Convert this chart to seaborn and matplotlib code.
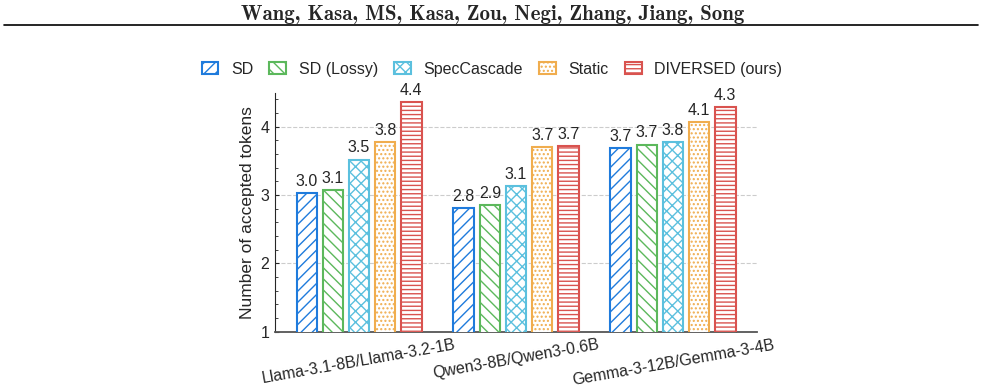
# Accepted tokens per drafting method, grouped by target/draft model pair
import pandas as pd
import matplotlib
matplotlib.use("Agg")
import matplotlib.pyplot as plt
from matplotlib.patches import Patch
from matplotlib.ticker import MultipleLocator
import seaborn as sns

# Data
pairs = ['Llama-3.1-8B/Llama-3.2-1B', 'Qwen3-8B/Qwen3-0.6B', 'Gemma-3-12B/Gemma-3-4B']
methods = ['SD', 'SD (Lossy)', 'SpecCascade', 'Static', 'DIVERSED (ours)']
sd = [3.035, 2.81, 3.69]
sd_lossy = [3.075, 2.85, 3.74]
spec_cascade = [3.52, 3.13, 3.77]
static = [3.77, 3.70, 4.07]
diversed = [4.36, 3.72, 4.29]

colors = ['#1f7bdc', '#5cb85c', '#5bc0de', '#f0ad4e', '#d9534f']
hatches = ['///', '\\\\\\', 'xxx', '....', '----']

rows = []
for m, vals in zip(methods, [sd, sd_lossy, spec_cascade, static, diversed]):
    for p, v in zip(pairs, vals):
        rows.append({'pair': p, 'method': m, 'tokens': v})
df = pd.DataFrame(rows)

sns.set_style('ticks')
plt.rcParams['font.family'] = ['Liberation Sans', 'DejaVu Sans']
plt.rcParams['hatch.linewidth'] = 1.0

fig = plt.figure(figsize=(9.84, 3.89), dpi=100)
ax = fig.add_axes([0.2795, 0.1473, 0.4898, 0.6147])

sns.barplot(data=df, x='pair', y='tokens', hue='method', order=pairs,
            hue_order=methods, palette=colors, width=0.833, gap=0.22,
            legend=False, ax=ax, zorder=3)

for cont, c, h in zip(ax.containers, colors, hatches):
    for bar in cont:
        bar.set_facecolor('white')
        bar.set_edgecolor(c)
        bar.set_hatch(h)
        bar.set_linewidth(1.5)
    ax.bar_label(cont, fmt='%.1f', padding=3, fontsize=11.5)

ax.set_ylim(1, 4.5)
ax.set_xlim(-0.535, 2.535)
ax.yaxis.set_major_locator(MultipleLocator(1))
ax.yaxis.set_minor_locator(MultipleLocator(0.2))
ax.xaxis.set_minor_locator(MultipleLocator(0.2))
ax.tick_params(which='major', direction='in', length=3, labelsize=11.5, pad=4)
ax.tick_params(which='minor', direction='in', length=2)
ax.grid(axis='y', linestyle='--', color='#cccccc', linewidth=0.8, zorder=0)
ax.set_axisbelow(True)
sns.despine(ax=ax)
ax.spines['bottom'].set_color('#555555')
ax.spines['bottom'].set_linewidth(1.3)

ax.set_xlabel('')
ax.set_ylabel('Number of accepted tokens', fontsize=12.5, labelpad=4)
ax.set_xticks(range(len(pairs)))
ax.set_xticklabels(pairs, rotation=10, ha='center', fontsize=11.5)

handles = [Patch(facecolor='white', edgecolor=c, hatch=h, linewidth=1.5, label=m)
           for m, c, h in zip(methods, colors, hatches)]
fig.legend(handles=handles, loc='center', bbox_to_anchor=(0.5, 0.822), ncol=5,
           frameon=False, fontsize=11.5, handlelength=1.05, handleheight=0.8,
           handletextpad=0.8, columnspacing=1.0)

# page header from the paper
fig.text(0.501, 0.963, 'Wang, Kasa, MS, Kasa, Zou, Negi, Zhang, Jiang, Song',
         ha='center', va='center', fontsize=15, family=['cmb10', 'DejaVu Serif'])
fig.add_artist(plt.Line2D([0.004, 0.994], [0.9357, 0.9357], transform=fig.transFigure,
                          color='black', linewidth=1.2))

fig.savefig('out.png', dpi=100)
